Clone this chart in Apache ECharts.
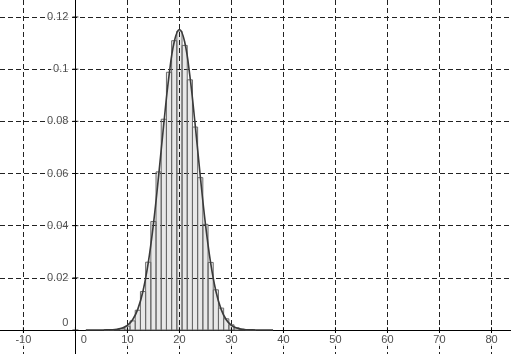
<!DOCTYPE html>
<html>
<head>
<meta charset="utf-8">
<script src="https://cdn.jsdelivr.net/npm/echarts@6/dist/echarts.min.js"></script>
<style>
  html, body { margin: 0; padding: 0; background: #fff; }
  #chart { width: 511px; height: 354px; }
</style>
</head>
<body>
<div id="chart"></div>
<script>
// histogram bars (centre k, height p)
const barX = [6, 7, 8, 9, 10, 11, 12, 13, 14, 15, 16, 17, 18, 19, 20,
              21, 22, 23, 24, 25, 26, 27, 28, 29, 30, 31, 32, 33, 34];
const barP = [0.00001, 0.00005, 0.00017, 0.00053, 0.00144, 0.00349, 0.00757, 0.01475,
              0.0260, 0.0416, 0.0606, 0.0808, 0.0988, 0.1109, 0.1146, 0.1091, 0.0959,
              0.0778, 0.0584, 0.0405, 0.0259, 0.0154, 0.0084, 0.0043, 0.0020, 0.00085,
              0.00034, 0.00012, 0.00004];

// overlaid density curve
const curveX = [2, 3, 4, 5, 6, 7, 8, 9, 10, 11, 12, 13, 14, 15, 16, 17, 18, 19, 20,
                21, 22, 23, 24, 25, 26, 27, 28, 29, 30, 31, 32, 33, 34, 35, 36, 37, 38];
const curveY = [0, 0, 0.000003, 0.00001, 0.00003, 0.0001, 0.00029, 0.00074, 0.00178,
                0.00394, 0.0080, 0.01495, 0.0257, 0.0406, 0.0591, 0.0792, 0.0975, 0.1105,
                0.1152, 0.1105, 0.0975, 0.0792, 0.0591, 0.0406, 0.0257, 0.01495, 0.0080,
                0.00394, 0.00178, 0.00074, 0.00029, 0.0001, 0.00003, 0.00001, 0.000003, 0, 0];

// tick labels
const xTicks = [-10, 0, 10, 20, 30, 40, 50, 60, 70, 80];
const yTicks = [0, 0.02, 0.04, 0.06, 0.08, 0.1, 0.12];

const bars = barX.map((x, i) => [x, barP[i]]);
const curve = curveX.map((x, i) => [x, curveY[i]]);

const font = 'Liberation Sans, Arial, sans-serif';
const labelStyle = {
    fontSize: 11, fontFamily: font, color: '#222',
    backgroundColor: '#fff', padding: [1, 2]
};
const gridLine = {
    show: true, showMinLine: false, showMaxLine: false,
    lineStyle: { color: '#222', width: 1, type: [5, 3] }
};

// GeoGebra style: the "0" labels sit beside the origin instead of under/left of it
const xTickData = xTicks.map(v => (v === 0
    ? { value: [v, 0], label: { offset: [8.5, 0] } }
    : { value: [v, 0] }));
const yTickData = yTicks.map(v => (v === 0
    ? { value: [0, v], label: { offset: [0, -7] } }
    : { value: [0, v] }));

const chart = echarts.init(document.getElementById('chart'));
chart.setOption({
    backgroundColor: '#fff',
    animation: false,
    grid: { left: 0, right: 0, top: 0, bottom: 0 },
    xAxis: {
        type: 'value',
        min: -14.5, max: 83.75,
        splitNumber: 10, minInterval: 10, maxInterval: 10,
        axisLine: { onZero: true, lineStyle: { color: '#000', width: 1 } },
        axisTick: { show: false },
        axisLabel: { show: false },
        splitLine: gridLine
    },
    yAxis: {
        type: 'value',
        min: -0.0092, max: 0.1265,
        splitNumber: 7, minInterval: 0.02, maxInterval: 0.02,
        axisLine: { onZero: true, lineStyle: { color: '#000', width: 1 } },
        axisTick: { show: false },
        axisLabel: { show: false },
        splitLine: gridLine
    },
    series: [
        {
            type: 'custom',
            data: bars,
            renderItem: function (params, api) {
                const topLeft = api.coord([api.value(0) - 0.5, api.value(1)]);
                const botRight = api.coord([api.value(0) + 0.5, 0]);
                return {
                    type: 'rect',
                    shape: {
                        x: topLeft[0], y: topLeft[1],
                        width: botRight[0] - topLeft[0], height: botRight[1] - topLeft[1]
                    },
                    style: { fill: 'rgba(0,0,0,0.09)', stroke: '#6a6a6a', lineWidth: 1 }
                };
            }
        },
        {
            type: 'line',
            data: curve,
            smooth: 0.4,
            showSymbol: false,
            lineStyle: { color: '#3a3a3a', width: 1.6 }
        },
        {
            // x tick marks + labels
            type: 'scatter',
            data: xTickData,
            symbol: 'rect',
            symbolSize: [1, 6],
            itemStyle: { color: '#000' },
            silent: true,
            label: {
                show: true, position: 'bottom', distance: 0, ...labelStyle,
                formatter: p => String(p.value[0])
            }
        },
        {
            // y tick marks + labels
            type: 'scatter',
            data: yTickData,
            symbol: 'rect',
            symbolSize: [6, 1],
            itemStyle: { color: '#000' },
            silent: true,
            label: {
                show: true, position: 'left', distance: 2, ...labelStyle,
                formatter: p => String(p.value[1])
            }
        }
    ]
});
</script>
</body>
</html>
